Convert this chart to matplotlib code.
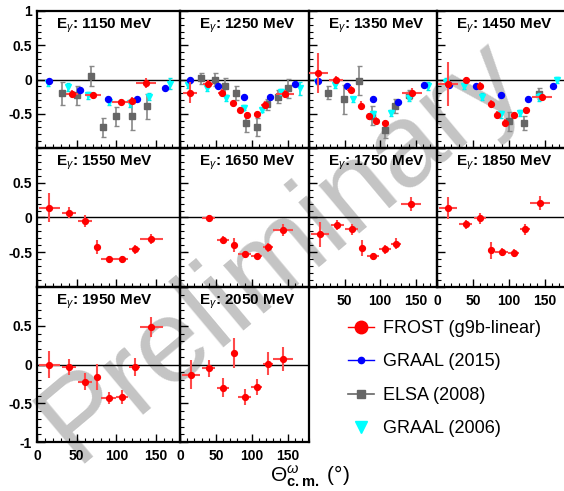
import matplotlib
matplotlib.use("Agg")
import matplotlib.pyplot as plt
from matplotlib.lines import Line2D
from matplotlib.ticker import MultipleLocator, FixedLocator

plt.rcParams['font.family'] = ['Liberation Sans', 'DejaVu Sans']
plt.rcParams['mathtext.fontset'] = 'custom'
plt.rcParams['mathtext.rm'] = 'Liberation Sans'
plt.rcParams['mathtext.it'] = 'Liberation Sans:italic'
plt.rcParams['mathtext.bf'] = 'Liberation Sans:bold'

# photon energies (MeV), one panel each
energies = [1150, 1250, 1350, 1450, 1550, 1650, 1750, 1850, 1950, 2050]

# FROST (g9b-linear)
frost_theta = [
    [44, 71, 106, 120, 137],
    [14, 39.5, 58, 74.4, 83.7, 94, 107, 118.6, 146.5],
    [12.7, 38.5, 58.7, 73.7, 84.5, 93.9, 107, 144.6],
    [15.3, 40, 60.5, 75, 84, 95, 108, 123.7, 146.5],
    [15.5, 40, 60, 75, 90, 107, 123, 144],
    [40, 60, 75, 90, 107, 123, 144],
    [15.5, 40, 60, 75, 90, 107, 123, 144],
    [15.5, 40, 60, 75, 90, 107, 123, 144],
    [15.5, 40, 60, 75, 90, 107, 123, 144],
    [15.5, 40, 60, 75, 90, 107, 123, 144],
]
frost_dtheta = [
    [7, 10, 12, 5, 13],
    [10, 7, 5, 3, 3, 3, 4, 5, 12],
    [14, 10, 5, 4, 3, 3, 4, 14],
    [14, 4, 4, 3, 3, 3, 4, 4, 14],
    [13, 9, 9, 3, 9, 8, 7, 14],
    [9, 8, 3, 9, 8, 7, 14],
    [13, 9, 9, 3, 9, 8, 7, 14],
    [13, 9, 9, 3, 9, 8, 7, 14],
    [13, 9, 9, 3, 9, 8, 7, 14],
    [13, 9, 9, 3, 9, 8, 7, 14],
]
frost_sigma = [
    [-0.21, -0.23, -0.33, -0.31, -0.05],
    [-0.19, -0.06, -0.19, -0.35, -0.44, -0.52, -0.51, -0.37, -0.21],
    [0.09, -0.01, -0.15, -0.38, -0.54, -0.60, -0.64, -0.19],
    [-0.07, 0.0, -0.10, -0.36, -0.52, -0.63, -0.52, -0.45, -0.26],
    [0.14, 0.07, -0.05, -0.42, -0.60, -0.60, -0.46, -0.31],
    [-0.01, -0.32, -0.39, -0.53, -0.56, -0.43, -0.18],
    [-0.24, -0.11, -0.17, -0.44, -0.56, -0.46, -0.38, 0.20],
    [0.14, -0.10, -0.01, -0.47, -0.50, -0.51, -0.17, 0.21],
    [0.0, -0.035, -0.22, -0.16, -0.43, -0.42, -0.03, 0.48],
    [-0.13, -0.05, -0.30, 0.15, -0.42, -0.29, 0.01, 0.07],
]
frost_err = [
    [0.05, 0.05, 0.04, 0.05, 0.07],
    [0.15, 0.05, 0.05, 0.04, 0.04, 0.04, 0.04, 0.05, 0.06],
    [0.29, 0.06, 0.05, 0.06, 0.05, 0.05, 0.05, 0.06],
    [0.32, 0.04, 0.06, 0.06, 0.06, 0.05, 0.04, 0.05, 0.05],
    [0.21, 0.08, 0.08, 0.10, 0.05, 0.05, 0.06, 0.07],
    [0.05, 0.06, 0.10, 0.05, 0.04, 0.07, 0.08],
    [0.18, 0.07, 0.08, 0.12, 0.05, 0.06, 0.08, 0.10],
    [0.16, 0.06, 0.08, 0.12, 0.06, 0.06, 0.08, 0.10],
    [0.18, 0.10, 0.11, 0.17, 0.08, 0.09, 0.12, 0.13],
    [0.19, 0.11, 0.12, 0.19, 0.10, 0.10, 0.15, 0.16],
]

# GRAAL (2015), only for the first four energies
graal15_theta = [
    [15.5, 54.4, 89, 126, 161],
    [14, 53.5, 89, 125.6, 161],
    [12.7, 53, 89.7, 125.4, 162],
    [16.3, 54, 89.8, 127, 162],
]
graal15_sigma = [
    [-0.02, -0.16, -0.29, -0.28, -0.12],
    [0.0, -0.10, -0.26, -0.25, -0.07],
    [-0.02, -0.10, -0.29, -0.33, -0.08],
    [-0.08, -0.09, -0.22, -0.28, -0.10],
]

# ELSA (2008)
elsa_theta = [
    [31.8, 50.6, 67.8, 82.8, 100, 119.7, 138.5],
    [29.3, 48.8, 62.8, 77.7, 91.6, 107, 121.9, 137, 150],
    [27.2, 49.3, 70.4, 88.3, 107, 121, 140],
    [101, 121, 142],
]
elsa_sigma = [
    [-0.20, -0.23, 0.05, -0.70, -0.54, -0.54, -0.39],
    [0.02, 0.0, -0.10, -0.20, -0.64, -0.69, -0.36, -0.25, -0.13],
    [-0.19, -0.29, -0.02, -0.53, -0.74, -0.39, -0.22],
    [-0.61, -0.64, -0.21],
]
elsa_err = [
    [0.17, 0.14, 0.14, 0.14, 0.14, 0.20, 0.18],
    [0.08, 0.10, 0.12, 0.10, 0.13, 0.13, 0.08, 0.10, 0.14],
    [0.09, 0.21, 0.21, 0.14, 0.12, 0.10, 0.07],
    [0.14, 0.10, 0.08],
]

# GRAAL (2006)
graal06_theta = [
    [13.8, 38.5, 64.4, 90, 116.7, 141, 167],
    [11.6, 37.2, 63.7, 89.8, 115, 141, 167.4],
    [11.7, 36.6, 62.4, 89.7, 115, 140.8, 168],
    [13, 37.7, 63.3, 88.8, 116, 142, 168],
]
graal06_sigma = [
    [-0.05, -0.11, -0.23, -0.33, -0.35, -0.25, -0.06],
    [-0.08, -0.13, -0.27, -0.41, -0.44, -0.18, -0.13],
    [-0.03, -0.08, -0.29, -0.50, -0.49, -0.27, -0.10],
    [-0.03, -0.10, -0.25, -0.51, -0.49, -0.25, -0.01],
]
graal06_err = [
    [0.05, 0.06, 0.05, 0.04, 0.05, 0.05, 0.08],
    [0.05, 0.04, 0.04, 0.04, 0.04, 0.04, 0.10],
    [0.04, 0.04, 0.04, 0.04, 0.04, 0.04, 0.06],
    [0.05, 0.04, 0.05, 0.05, 0.04, 0.06, 0.04],
]

W, H = 564, 491
fig = plt.figure(figsize=(W / 100, H / 100), dpi=100)

col_edges = [(37, 180), (180, 309), (309, 437), (437, 566)]
row_edges = [(11, 148), (148, 287), (287, 442)]
ytick_sets = [[1, 0.5, 0, -0.5], [0.5, 0, -0.5], [0.5, 0, -0.5, -1]]

for i, e in enumerate(energies):
    r, c = divmod(i, 4)
    x0, x1 = col_edges[c]
    y0, y1 = row_edges[r]
    ax = fig.add_axes([x0 / W, 1 - y1 / H, (x1 - x0) / W, (y1 - y0) / H])
    ax.set_facecolor('none')
    ax.set_xlim(0, 180)
    ax.set_ylim(-1, 1)
    ax.axhline(0, color='black', lw=1, zorder=1)

    if i < 4:
        ax.errorbar(elsa_theta[i], elsa_sigma[i], yerr=elsa_err[i], fmt='s',
                    color='#666666', ecolor='#888888', ms=4.3, elinewidth=1.2,
                    capsize=1.8, zorder=2)
        ax.errorbar(graal06_theta[i], graal06_sigma[i], yerr=graal06_err[i], fmt='v',
                    color='#00ffff', ecolor='#00e8e8', ms=4.6, elinewidth=1.2,
                    capsize=1.5, zorder=3)
        ax.plot(graal15_theta[i], graal15_sigma[i], 'o', color='#0000ff', ms=4.3,
                zorder=4)
    ax.errorbar(frost_theta[i], frost_sigma[i], yerr=frost_err[i], xerr=frost_dtheta[i],
                fmt='o', color='#ff0000', ecolor='#ff4a4a', ms=4.2, elinewidth=1.5,
                capsize=0, zorder=5)

    ax.text(19 / (x1 - x0), 1 - 15 / (y1 - y0), r'E$_{\gamma}$: %d MeV' % e,
            transform=ax.transAxes, ha='left', va='center', fontsize=11,
            fontweight='bold')

    ax.xaxis.set_major_locator(FixedLocator([0, 50, 100, 150]))
    ax.xaxis.set_minor_locator(MultipleLocator(10))
    ax.yaxis.set_major_locator(FixedLocator([-1, -0.5, 0, 0.5, 1]))
    ax.yaxis.set_minor_locator(MultipleLocator(0.1))
    ax.tick_params(which='both', direction='in', top=False, right=False,
                   labelsize=10)
    ax.tick_params(which='major', length=6, width=1)
    ax.tick_params(which='minor', length=3, width=0.8)
    for s in ax.spines.values():
        s.set_linewidth(1.6)

    if c == 0:
        ax.set_yticks(ytick_sets[r])
        ax.set_yticklabels(['%g' % v for v in ytick_sets[r]], fontweight='bold')
        ax.yaxis.set_minor_locator(MultipleLocator(0.1))
    else:
        ax.set_yticklabels([])

    show_x = (r == 2) or (r == 1 and c >= 2)
    if show_x:
        xt = [0, 50, 100, 150] if c != 2 else [50, 100, 150]
        ax.set_xticks(xt)
        ax.set_xticklabels(['%d' % v for v in xt], fontweight='bold')
        ax.xaxis.set_minor_locator(MultipleLocator(10))
        ax.tick_params(axis='x', pad=5)
    else:
        ax.set_xticklabels([])

# legend
handles = [
    Line2D([], [], color='#ff0000', marker='o', ms=9, lw=1),
    Line2D([], [], color='#0000ff', marker='o', ms=4.5, lw=1),
    Line2D([], [], color='#666666', marker='s', ms=6, lw=1.2),
    Line2D([], [], color='#00ffff', marker='v', ms=8, lw=0),
]
labels = ['FROST (g9b-linear)', 'GRAAL (2015)', 'ELSA (2008)', 'GRAAL (2006)']
fig.legend(handles, labels, loc='upper left', bbox_to_anchor=(339 / W, 1 - 311 / H),
           frameon=False, fontsize=13, labelspacing=0.91, handlelength=1.45,
           handletextpad=0.5, borderpad=0)

fig.text(310 / W, 1 - 476 / H, r'$\Theta^{\omega}_{\mathbf{c.m.}}$ (°)',
         ha='center', va='center', fontsize=15)

# watermark
fig.text(0.5, 0.49, 'Preliminary', rotation=40, fontsize=85, color='#c4c4c4',
         ha='center', va='center', zorder=-1)

fig.savefig('out.png', dpi=100)
